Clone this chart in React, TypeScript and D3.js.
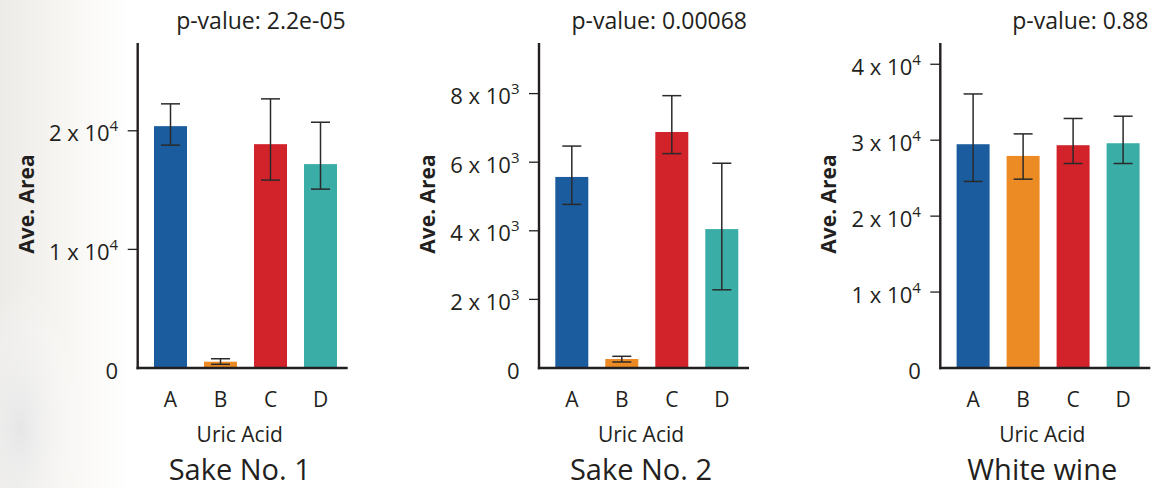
import React from "react";
import * as d3 from "d3";

const categories = ["A", "B", "C", "D"];
const colors = ["#1a5c9d", "#ec8a24", "#d2232b", "#3aada7"];
const panelTitles = ["Sake No. 1", "Sake No. 2", "White wine"];
const pValues = ["2.2e-05", "0.00068", "0.88"];
const xLabel = "Uric Acid";
const yLabel = "Ave. Area";

const sake1Mean = [20390, 530, 18870, 17190];
const sake1Lo = [18790, 310, 15840, 15080];
const sake1Hi = [22270, 780, 22690, 20720];

const sake2Mean = [5570, 262, 6880, 4050];
const sake2Lo = [4770, 175, 6250, 2280];
const sake2Hi = [6470, 341, 7940, 5970];

const wineMean = [29470, 27930, 29340, 29600];
const wineLo = [24570, 24870, 26930, 26930];
const wineHi = [36090, 30830, 32860, 33160];

const sake1Ticks = [0, 10000, 20000];
const sake2Ticks = [0, 2000, 4000, 6000, 8000];
const wineTicks = [0, 10000, 20000, 30000, 40000];
const tickExponents = [4, 3, 4];
const yMaxes = [27400, 9475, 42800];

const panels = [
  { mean: sake1Mean, lo: sake1Lo, hi: sake1Hi, ticks: sake1Ticks },
  { mean: sake2Mean, lo: sake2Lo, hi: sake2Hi, ticks: sake2Ticks },
  { mean: wineMean, lo: wineLo, hi: wineHi, ticks: wineTicks },
];

const W = 1171;
const H = 488;
const axisXs = [137.7, 539, 940.3];
const baseY = 368;
const topY = 43;
const axisLen = 210;
const FONT = "'Open Sans', 'Noto Sans', sans-serif";
const INK = "#231f20";

function Panel({ idx }: { idx: number }) {
  const p = panels[idx];
  const ax = axisXs[idx];
  const exp = tickExponents[idx];
  const y = d3.scaleLinear().domain([0, yMaxes[idx]]).range([baseY, topY]);
  const x = d3
    .scaleBand<string>()
    .domain(categories)
    .range([ax + 7.8, ax + 207.8])
    .paddingInner(0.34)
    .paddingOuter(0.17);
  const bw = x.bandwidth();
  const cap = 9.5;
  const cx = ax + 102;
  return (
    <g>
      {categories.map((c, i) => (
        <rect
          key={c}
          x={x(c)}
          y={y(p.mean[i])}
          width={bw}
          height={baseY - y(p.mean[i])}
          fill={colors[i]}
        />
      ))}
      {categories.map((c, i) => {
        const mx = (x(c) as number) + bw / 2;
        return (
          <g key={"e" + c} stroke="#2a2a2a" strokeWidth={1.5} fill="none">
            <line x1={mx} x2={mx} y1={y(p.hi[i])} y2={y(p.lo[i])} />
            <line x1={mx - cap} x2={mx + cap} y1={y(p.hi[i])} y2={y(p.hi[i])} />
            <line x1={mx - cap} x2={mx + cap} y1={y(p.lo[i])} y2={y(p.lo[i])} />
          </g>
        );
      })}
      <line x1={ax} x2={ax} y1={topY} y2={baseY + 1.2} stroke={INK} strokeWidth={2.4} />
      <line x1={ax - 1.2} x2={ax + axisLen} y1={baseY} y2={baseY} stroke={INK} strokeWidth={2.4} />
      {p.ticks.map((t) => {
        const ty = y(t);
        const m = t / Math.pow(10, exp);
        return (
          <g key={"t" + t}>
            {t !== 0 && (
              <line x1={ax - 10} x2={ax} y1={ty} y2={ty} stroke={INK} strokeWidth={1.3} />
            )}
            <text
              x={ax - 19.5}
              y={ty + 10.5}
              textAnchor="end"
              fontFamily={FONT}
              fontSize={22}
              fill={INK}
            >
              {t === 0 ? (
                "0"
              ) : (
                <>
                  {`${d3.format("d")(m)} x 10`}
                  <tspan fontSize={15} dy={-10}>
                    {exp}
                  </tspan>
                </>
              )}
            </text>
          </g>
        );
      })}
      {categories.map((c) => (
        <text
          key={"l" + c}
          x={(x(c) as number) + bw / 2}
          y={406.5}
          textAnchor="middle"
          fontFamily={FONT}
          fontSize={21}
          fill={INK}
        >
          {c}
        </text>
      ))}
      <text x={cx} y={441.5} textAnchor="middle" fontFamily={FONT} fontSize={21} fill={INK}>
        {xLabel}
      </text>
      <text x={cx} y={479.5} textAnchor="middle" fontFamily={FONT} fontSize={29} fill={INK}>
        {panelTitles[idx]}
      </text>
      <text
        x={ax + axisLen - 2}
        y={28.5}
        textAnchor="end"
        fontFamily={FONT}
        fontSize={23}
        fill={INK}
      >
        {`p-value: ${pValues[idx]}`}
      </text>
      <text
        transform={`translate(${ax - 112},204) rotate(-90)`}
        textAnchor="middle"
        dominantBaseline="central"
        fontFamily={FONT}
        fontWeight="bold"
        fontSize={21}
        fill={INK}
      >
        {yLabel}
      </text>
    </g>
  );
}

export default function App() {
  return (
    <svg
      width={W}
      height={H}
      style={{ position: "absolute", left: 0, top: 0, display: "block" }}
    >
      <defs>
        <linearGradient id="bgfade" x1="0" x2="1" y1="0" y2="0">
          <stop offset="0" stopColor="#ecebe8" />
          <stop offset="0.5" stopColor="#f7f6f3" />
          <stop offset="1" stopColor="#ffffff" />
        </linearGradient>
        <radialGradient id="blob" cx="0.2" cy="0.75" r="0.6">
          <stop offset="0" stopColor="#e4e4e6" stopOpacity={0.8} />
          <stop offset="1" stopColor="#ffffff" stopOpacity={0} />
        </radialGradient>
      </defs>
      <rect width={W} height={H} fill="#ffffff" />
      <rect x={0} y={0} width={130} height={H} fill="url(#bgfade)" />
      <rect x={0} y={250} width={100} height={238} fill="url(#blob)" />
      {panels.map((_, i) => (
        <Panel key={i} idx={i} />
      ))}
    </svg>
  );
}
